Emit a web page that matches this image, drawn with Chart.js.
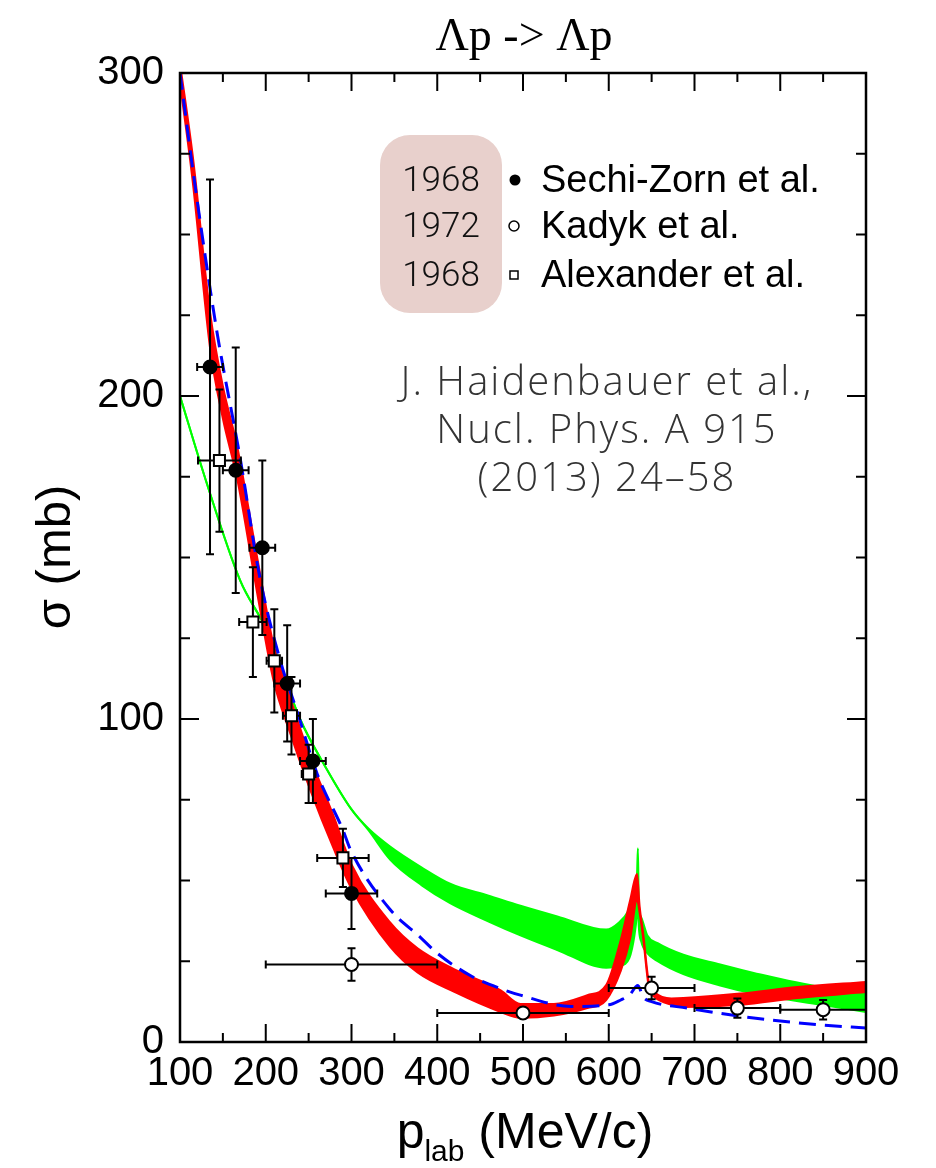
<!DOCTYPE html>
<html>
<head>
<meta charset="utf-8">
<script src="https://cdn.jsdelivr.net/npm/chart.js@4.4.0/dist/chart.umd.min.js"></script>
<style>
  html, body { margin: 0; padding: 0; background: #fff; }
  #wrap { width: 936px; height: 1168px; }
</style>
</head>
<body>
<div id="wrap"><canvas id="sigmaChart" width="936" height="1168"></canvas></div>
<script>
// axes
const xTicks = [100, 200, 300, 400, 500, 600, 700, 800, 900];
const xMinorTicks = [150, 250, 350, 450, 550, 650, 750, 850];
const yTicks = [0, 100, 200, 300];
const yMinorTicks = [25, 50, 75, 125, 150, 175, 225, 250, 275];

// Sechi-Zorn et al. 1968 (filled circles)
const sechiP = [135, 165, 196, 225, 255, 300];
const sechiS = [209, 177, 153, 111, 87, 46];
const sechiDP = [15, 15, 15, 15, 15, 30];
const sechiDS = [58, 38, 27, 18, 13, 11];

// Kadyk et al. 1972 (open circles)
const kadykP = [300, 500, 650, 750, 850];
const kadykS = [24, 9, 16.7, 10.5, 10];
const kadykDP = [100, 100, 50, 50, 50];
const kadykDS = [5, 1.5, 3.5, 3, 3];

// Alexander et al. 1968 (open squares)
const alexP = [146, 185, 210, 230, 250, 290];
const alexS = [180, 130, 118, 101, 83, 57];
const alexDP = [25, 16, 9, 10, 8, 30];
const alexDS = [22, 17, 16, 12, 9, 9];

// red band (NLO)
const redP = [100, 115, 135, 150, 167, 190, 209, 228, 252, 279, 300, 345, 377, 420, 474, 497, 536, 575, 597, 614, 625, 633, 636, 640, 647, 653, 673, 687, 753, 820, 900];
const redHi = [303, 274, 226, 203, 184, 150, 123, 107, 88, 70, 55, 37, 29, 22.5, 16, 11.8, 11.8, 14.5, 17.6, 31.6, 44, 52, 42, 34, 18, 15.5, 13.5, 13.6, 15, 17, 18.6];
const redLo = [297, 266, 215, 193, 174, 139, 112, 96, 78, 60, 47.5, 29.5, 21.5, 15.5, 9.3, 7.5, 8.2, 10.5, 13, 22, 32, 44, 40, 32.5, 16.5, 14, 11.5, 10.8, 11.5, 13.6, 15.5];

// green band (LO)
const greenP = [100, 130, 170, 202, 240, 270, 300, 320, 345, 382, 415, 460, 497, 540, 597, 612, 624, 630, 633, 634, 635, 638, 645, 657, 687, 730, 769, 848, 900];
const greenHi = [200, 174, 143, 127, 100, 85, 72, 66, 60.5, 54, 49, 45.3, 42.2, 38.9, 34.8, 37, 41, 45, 52, 60, 43, 38.5, 33, 30.6, 27, 24, 21.4, 17, 15.5];
const greenLo = [200, 174, 143, 127, 100, 85, 72, 65.5, 56.5, 48.5, 43, 37.3, 33, 28.5, 23, 23.5, 26, 33, 40, 44, 36, 31, 27.5, 25, 21, 17.5, 15, 11.5, 9.3];

// blue dashed (Juelich '04)
const blueP = [100, 115, 143, 170, 193, 217, 237, 260, 290, 299, 345, 380, 400, 439, 474, 497, 556, 600, 614, 624, 634, 640, 650, 692, 769, 848, 900];
const blueS = [300, 270, 220, 181, 144, 118, 102, 83, 65.6, 59.4, 41, 32.5, 27.5, 20.5, 16.5, 14.5, 11, 11.5, 13, 14.5, 17.5, 14, 12.5, 10.5, 7.4, 5.3, 4.3];

const legendYears = ['1968', '1972', '1968'];
const legendNames = ['Sechi-Zorn et al.', 'Kadyk et al.', 'Alexander et al.'];
const citeLines = ['J. Haidenbauer et al.,', 'Nucl. Phys. A 915', '(2013) 24\u201358'];

const pts = (xs, ys) => xs.map((x, i) => ({ x: x, y: ys[i] }));

function curve(label, xs, ys, color, extra) {
    return Object.assign({
        label: label,
        data: pts(xs, ys),
        borderColor: color,
        backgroundColor: color,
        borderWidth: 2,
        pointRadius: 0,
        fill: false,
        cubicInterpolationMode: 'monotone'
    }, extra);
}

function markers(label, xs, ys, dx, dy, style) {
    return Object.assign({
        type: 'scatter',
        label: label,
        data: pts(xs, ys),
        errX: dx,
        errY: dy,
        order: 0,
        borderColor: '#000',
        pointBorderWidth: 2
    }, style);
}

let errDrawn = false;

function drawErrors(chart) {
    const ctx = chart.ctx;
    const xs = chart.scales.x, ys = chart.scales.y;
    ctx.save();
    ctx.strokeStyle = '#000';
    ctx.lineWidth = 2;
    chart.data.datasets.forEach(ds => {
        if (!ds.errX) return;
        ds.data.forEach((p, i) => {
            const px = xs.getPixelForValue(p.x), py = ys.getPixelForValue(p.y);
            const x1 = xs.getPixelForValue(p.x - ds.errX[i]), x2 = xs.getPixelForValue(p.x + ds.errX[i]);
            const y1 = ys.getPixelForValue(p.y - ds.errY[i]), y2 = ys.getPixelForValue(p.y + ds.errY[i]);
            const c = 4;
            ctx.beginPath();
            ctx.moveTo(x1, py); ctx.lineTo(x2, py);
            ctx.moveTo(x1, py - c); ctx.lineTo(x1, py + c);
            ctx.moveTo(x2, py - c); ctx.lineTo(x2, py + c);
            ctx.moveTo(px, y1); ctx.lineTo(px, y2);
            ctx.moveTo(px - c, y1); ctx.lineTo(px + c, y1);
            ctx.moveTo(px - c, y2); ctx.lineTo(px + c, y2);
            ctx.stroke();
        });
    });
    ctx.restore();
}

const decor = {
    id: 'decor',
    beforeDraw() { errDrawn = false; },
    beforeDatasetDraw(chart, args) {
        const ds = chart.data.datasets[args.index];
        if (ds.errX && !errDrawn) { drawErrors(chart); errDrawn = true; }
    },
    afterDraw(chart) {
        const ctx = chart.ctx;
        const a = chart.chartArea;
        const xs = chart.scales.x, ys = chart.scales.y;
        ctx.save();
        // frame
        ctx.strokeStyle = '#000';
        ctx.lineWidth = 2.5;
        ctx.strokeRect(a.left, a.top, a.right - a.left, a.bottom - a.top);
        // ticks, inward on all four sides
        ctx.lineWidth = 2;
        ctx.beginPath();
        const tickX = (v, len) => {
            const x = xs.getPixelForValue(v);
            ctx.moveTo(x, a.bottom); ctx.lineTo(x, a.bottom - len);
            ctx.moveTo(x, a.top); ctx.lineTo(x, a.top + len);
        };
        const tickY = (v, len) => {
            const y = ys.getPixelForValue(v);
            ctx.moveTo(a.left, y); ctx.lineTo(a.left + len, y);
            ctx.moveTo(a.right, y); ctx.lineTo(a.right - len, y);
        };
        xTicks.forEach(v => tickX(v, 18));
        xMinorTicks.forEach(v => tickX(v, 9));
        yTicks.forEach(v => tickY(v, 19));
        yMinorTicks.forEach(v => tickY(v, 10));
        ctx.stroke();

        ctx.fillStyle = '#000';
        // title
        ctx.font = '46px "Liberation Serif"';
        ctx.textAlign = 'center';
        ctx.textBaseline = 'alphabetic';
        ctx.fillText('\u039Bp -> \u039Bp', 524, 50);

        // x axis title with subscript
        const big = '50px "Liberation Sans"', small = '30px "Liberation Sans"';
        ctx.textAlign = 'left';
        ctx.font = big; const wp = ctx.measureText('p').width;
        const wr = ctx.measureText(' (MeV/c)').width;
        ctx.font = small; const wl = ctx.measureText('lab').width;
        let tx = 525 - (wp + wl + wr) / 2;
        const base = 1148;
        ctx.font = big; ctx.fillText('p', tx, base); tx += wp;
        ctx.font = small; ctx.fillText('lab', tx, base + 13); tx += wl;
        ctx.font = big; ctx.fillText(' (MeV/c)', tx, base);

        // y axis title
        ctx.save();
        ctx.translate(56, 557);
        ctx.rotate(-Math.PI / 2);
        ctx.textAlign = 'center';
        ctx.textBaseline = 'middle';
        ctx.font = '49px "Liberation Sans"';
        ctx.fillText('\u03C3 (mb)', 0, 0);
        ctx.restore();

        // legend box
        ctx.fillStyle = '#e8d0cc';
        ctx.beginPath();
        ctx.roundRect(380, 135, 122, 178, 30);
        ctx.fill();
        const rows = [180, 226, 275];
        ctx.fillStyle = '#111';
        ctx.textBaseline = 'middle';
        ctx.textAlign = 'center';
        ctx.font = '300 35px Roboto';
        legendYears.forEach((t, i) => ctx.fillText(t, 441, rows[i] + 2));
        ctx.textAlign = 'left';
        ctx.font = '38px "Liberation Sans"';
        ctx.fillStyle = '#000';
        legendNames.forEach((t, i) => ctx.fillText(t, 541, rows[i] + 2));
        ctx.lineWidth = 1.5;
        ctx.beginPath(); ctx.arc(515, rows[0], 5.5, 0, 2 * Math.PI); ctx.fill();
        ctx.beginPath(); ctx.arc(514, rows[1], 5, 0, 2 * Math.PI);
        ctx.fillStyle = '#fff'; ctx.fill(); ctx.stroke();
        ctx.fillRect(510, rows[2] - 4, 8, 8); ctx.strokeRect(510, rows[2] - 4, 8, 8);

        // citation
        ctx.fillStyle = '#333';
        ctx.textAlign = 'center';
        ctx.font = '300 40px "Open Sans"';
        ctx.letterSpacing = '2px';
        citeLines.forEach((t, i) => ctx.fillText(t, 607, 384 + i * 48));
        ctx.letterSpacing = '0px';
        ctx.restore();
    }
};

const tickFont = { family: '"Liberation Sans"', size: 40 };

new Chart(document.getElementById('sigmaChart'), {
    type: 'line',
    data: {
        datasets: [
            markers('Sechi-Zorn et al.', sechiP, sechiS, sechiDP, sechiDS,
                { pointStyle: 'circle', pointRadius: 6.5, backgroundColor: '#000' }),
            markers('Kadyk et al.', kadykP, kadykS, kadykDP, kadykDS,
                { pointStyle: 'circle', pointRadius: 6.5, backgroundColor: '#fff' }),
            markers('Alexander et al.', alexP, alexS, alexDP, alexDS,
                { pointStyle: 'rect', pointRadius: 7.8, backgroundColor: '#fff' }),
            curve('Juelich 04', blueP, blueS, '#0000ff', { borderWidth: 3, borderDash: [17, 9], order: 1 }),
            curve('NLO hi', redP, redHi, '#ff0000', { fill: '+1', order: 2 }),
            curve('NLO lo', redP, redLo, '#ff0000', { order: 2 }),
            curve('LO hi', greenP, greenHi, '#00ff00', { fill: '+1', order: 3 }),
            curve('LO lo', greenP, greenLo, '#00ff00', { order: 3 })
        ]
    },
    options: {
        responsive: false,
        animation: false,
        layout: { padding: 0 },
        plugins: { legend: { display: false }, tooltip: { enabled: false } },
        scales: {
            x: {
                type: 'linear', position: 'bottom', min: 100, max: 900,
                afterBuildTicks: s => { s.ticks = xTicks.map(v => ({ value: v })); },
                afterFit: s => { s.height = 126; },
                grid: { display: false }, border: { display: false },
                ticks: { font: tickFont, color: '#000', padding: 0, autoSkip: false, maxRotation: 0 }
            },
            x2: {
                type: 'linear', position: 'top', min: 100, max: 900,
                afterFit: s => { s.height = 73; },
                grid: { display: false }, border: { display: false }, ticks: { display: false }
            },
            y: {
                type: 'linear', position: 'left', min: 0, max: 300,
                afterBuildTicks: s => { s.ticks = yTicks.map(v => ({ value: v })); },
                afterFit: s => { s.width = 180; },
                grid: { display: false }, border: { display: false },
                ticks: { font: tickFont, color: '#000', padding: 8 }
            },
            y2: {
                type: 'linear', position: 'right', min: 0, max: 300,
                afterFit: s => { s.width = 70; },
                grid: { display: false }, border: { display: false }, ticks: { display: false }
            }
        }
    },
    plugins: [decor]
});
</script>
</body>
</html>
